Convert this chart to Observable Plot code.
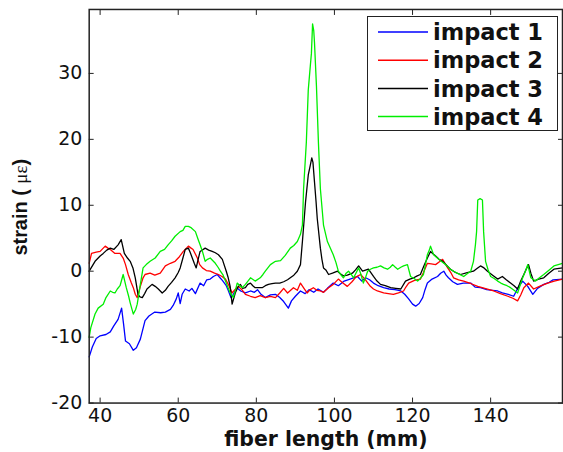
<!DOCTYPE html>
<html><head><meta charset="utf-8">
<script src="https://cdn.jsdelivr.net/npm/d3@7"></script>
<script src="https://cdn.jsdelivr.net/npm/@observablehq/plot@0.6"></script>
<style>
html,body{margin:0;padding:0;background:#fff;overflow:hidden}
#wrap{position:relative;width:563px;height:452px;overflow:hidden}
#legend{position:absolute;left:367px;top:16px;width:189px;height:113px;border:1.5px solid #222;background:#fff}
</style></head>
<body><div id="wrap"><div id="chart"></div><svg id="legend"></svg></div>
<script>
const seriesNames = ["impact 1", "impact 2", "impact 3", "impact 4"];
const seriesColors = ["#0000ff", "#ff0000", "#000000", "#00ee00"];
const xTicks = [40, 60, 80, 100, 120, 140, 160];
const yTicks = [-20, -10, 0, 10, 20, 30];
const xLabel = "fiber length (mm)";
const yLabelParts = ["strain ( ", "με", ")"];

const impact1X = [37.2,38,39,40,41.5,42.6,43.5,44.6,45.5,46,46.5,47.5,48.5,49.3,50.3,51.5,52.5,54,55.5,56.7,58,58.7,59.5,60,60.5,61,61.8,62.8,63.5,64.4,65.6,66.5,67.3,68.2,69,70,70.7,71.3,72.3,72.8,73.5,74.1,75,76,77.2,78.5,79.5,80.3,81.2,82.3,83.6,84.9,86,87,88.2,89,90,91.3,92.5,93.5,94.7,95.8,97.2,98.2,99.7,101,102.5,104,105.9,107,108,109,110,111.2,112.6,114,115.5,117,118,119,120,120.8,121.7,122.6,123.2,123.8,125,126.4,127.2,128,128.6,129.2,130.3,131.5,133,134.9,136,137.4,139,140.5,141.8,143,144.5,145.9,147,148.2,149.5,150.8,152,153.6,155,156,158.4];
const impact1Y = [-13,-11.5,-10.2,-9.8,-9.6,-9.2,-8.3,-7.3,-5.6,-8,-10.6,-11,-12,-11.6,-10.3,-7.5,-6.8,-6.2,-6.3,-6.2,-5.8,-5.2,-4.2,-3.3,-4.9,-3.5,-2.7,-3,-2.6,-3.4,-1.8,-2.2,-1.3,-1.2,-0.8,-0.5,-1,-1.4,-2.2,-2.9,-4,-3.5,-2.5,-3,-3.3,-3,-3.2,-2.8,-3.5,-4,-3.6,-3.5,-4,-4.6,-5.6,-4.5,-3.8,-3,-3.4,-2.8,-3.2,-2.7,-3.2,-2.6,-1.8,-2.2,-1.5,-1.2,-0.8,-1.5,-1,-1.3,-1.8,-2.2,-2.5,-2.7,-2.8,-3,-3.5,-4.2,-5,-5.3,-4.9,-4,-2.8,-1.8,-1.2,-0.8,-0.3,0,-0.6,-1,-1.6,-2,-1.8,-1.8,-2.4,-2.5,-2.8,-2.9,-3,-3.3,-3.5,-3.8,-2.5,-1.5,-2.3,-3.5,-2.6,-2,-1.7,-1.3,-1.2];

const impact2X = [37.2,37.8,39,40,41.3,42,42.6,43.8,45.1,45.9,46.5,47.2,48,48.5,49,49.5,50.3,51,51.5,52.8,54,55.4,56.7,58,59.2,60.3,61.3,62.6,63.3,63.8,64.9,65.5,66.2,67.2,68.2,69.3,70.3,71.2,72.1,73,73.8,74.5,75.4,76.3,77.2,78.5,79.7,81,82.3,83.6,84.9,86,87,88,89.5,90.5,91.3,92.2,93,93.8,94.6,95.5,96.4,97.2,98.5,99.7,101,102,103.3,104.5,105.5,106.7,107.8,109.2,110,111,112.6,113.8,115.1,116.4,117.7,118.3,119,120.5,122,122.8,123.8,124.8,125.9,126.8,127.7,128.3,129,129.8,130.5,131.8,133.1,135,136.7,138.5,140.8,142.5,144.4,145.7,146.9,147.7,148.5,149.7,151,152.5,154.6,156.3,158.4];
const impact2Y = [1.2,2.7,2.9,3,3.8,3.5,3.3,2.7,2.7,2,1,-0.5,-1.8,-2.5,-3.5,-4,-2.3,-1,-0.5,-0.3,-0.6,-0.3,0.8,1.2,1.5,2.2,3,3.8,3.5,3.3,2,1,0.5,0.1,0,-0.3,-0.5,-0.8,-1.2,-2.2,-3.3,-2.8,-2.3,-2.8,-3.5,-3.8,-4,-3.7,-4,-3.8,-4,-3.3,-2.6,-3.3,-2.5,-2.9,-1.8,-2.6,-3.3,-2.8,-2.5,-2.9,-3,-3.2,-2.5,-2,-1.2,-1.7,-2.3,-1.6,-0.9,-0.5,-1.2,-2.3,-2.7,-3,-3.3,-3.4,-3.5,-3.3,-3,-2.4,-1.8,-1.4,-1.2,-0.2,1.2,1.1,1,1.4,1.8,1.2,0.5,-0.2,-1,-1.3,-1.5,-1.9,-2.3,-2.6,-3,-3.4,-3.8,-4.1,-4.5,-3.6,-2.5,-1.8,-2.7,-2.3,-1.8,-1.5,-1.2];

const impact3X = [37.2,38.7,40,40.8,41.7,42.6,43.5,44.6,45.4,46.2,47,47.7,48.4,49,49.7,50.2,50.8,51.4,52,53.3,54.1,54.9,55.9,56.7,57.4,58.3,59.2,60,60.5,61.2,61.8,62.6,63.1,63.6,64.1,64.6,65.1,65.6,66.9,67.8,68.7,69.5,70.3,71.3,72.3,72.8,73.3,73.8,74.6,75.2,75.9,76.5,77.2,77.8,78.5,79.1,79.7,80.6,81.5,82.3,83.1,84,84.9,86,87,88,88.7,89.6,90.5,91.3,91.8,92.2,92.6,93.3,93.8,94.2,94.5,94.9,95.3,95.6,96.4,96.8,97.2,97.8,98.5,99.5,100.8,101.5,102.3,103.3,104.6,105.4,106.2,107.2,108.7,110,110.9,111.8,113,114.4,115.7,117,118.2,119.3,120.3,121.2,122,122.9,123.8,124.6,125.3,125.9,126.8,127.7,128.7,129.7,131,132.3,134,135.6,136.5,137.4,138.3,139.2,140.5,141.8,143,144,145.1,146,146.9,147.7,148.5,149.1,149.7,150.3,151,152.3,153.6,154.9,156.2,158.4];
const impact3Y = [0,1.5,2.3,2.7,3.2,3.5,3.3,4,4.8,2.7,2,1.5,0.5,-1,-3.5,-3.9,-4,-3.4,-2.7,-2,-2.3,-2.7,-3.3,-2.9,-2.3,-1.7,-1,-0.2,0.5,2,3.3,3.5,2.8,2,1.2,0.5,1.8,3,3.5,3.2,3,2.8,2.5,1.8,0,-1,-2.3,-5,-3.3,-2.5,-2,-2.6,-2.5,-2,-1.8,-2.2,-2.5,-2.5,-2.5,-2.2,-2,-1.9,-1.8,-1.8,-1.6,-1.3,-1,-0.6,0,1,4.5,7.5,10.5,14.6,16,17.2,16.5,13.5,10.5,8,3.5,1.8,0.5,0.2,-0.5,-0.3,0,-0.4,-0.7,-0.6,-0.3,0.2,0.8,0,0.3,-0.8,-1.5,-2,-2.2,-2.5,-2.6,-2.7,-1.5,-1.2,-1,-0.7,-0.5,0.8,2,3,2.6,2.3,1.8,1.5,0.9,0.3,-0.2,-0.5,-0.2,0,0.4,0.8,0.5,0,-0.6,-1.2,-0.8,-1.3,-1.8,-2.2,-2.7,-1.5,-0.5,0.3,1,-0.3,-1.5,-1.2,-1,-0.3,0.3,0.5];

const impact4X = [37.2,37.6,38.7,39.5,40.8,41.5,42.6,43.2,43.8,44.4,45.1,45.9,46.7,47.3,47.7,48.5,49.1,49.5,50.3,51,51.8,52.8,54.1,55.4,56.5,57.4,58.3,59.2,60.5,61.2,61.8,62.6,63.3,64.4,65.1,65.6,66.2,66.9,67.5,68.2,69.5,70.2,70.8,71.5,72.1,72.7,73.3,74.1,74.6,75.1,75.8,76.4,77.2,78,78.5,79.7,81,81.7,82.3,83.6,84.9,86.2,87.4,88.7,89.6,90.5,91.3,91.8,92.1,92.8,93.3,93.8,94.1,94.4,94.7,94.9,95.4,95.9,96.4,97.2,98.2,99.7,100.4,101,101.6,102.3,103,103.6,104.3,104.9,105.5,106.2,106.8,107.4,108,108.5,109.2,110,110.9,111.8,112.7,113.6,114.3,114.9,115.6,116.2,117,117.7,118.7,119.5,120.4,121.3,122,122.8,123.3,123.8,124.3,124.6,125.4,126.7,127.6,128.5,129.7,130.5,131.8,133.1,134,134.9,135.6,136.1,136.4,136.7,137.3,137.9,138.2,138.7,139.3,140,140.9,141.8,142.6,143.3,144.2,145.1,146,146.9,147.5,148.2,148.9,149.5,150.3,151.5,152.5,153.6,155,156.2,158.4];
const impact4Y = [-10,-8.6,-6.5,-5.6,-5,-4,-3,-3.2,-3.3,-2.7,-2.2,-0.5,-2.5,-3.8,-4.8,-6.5,-5.8,-5,-2,0.5,1,1.5,2,3,3.3,4,4.6,5.3,6,6.2,6.8,6.8,6.6,6,4.8,4,3,1.5,1.8,2,1.2,0.6,0,-0.6,-1.5,-2.4,-3.3,-4,-3,-1.8,-2.2,-2.5,-2,-1.4,-1,-1.5,-1,-0.5,0,1,1.5,1.6,2.4,3.5,3.9,4.5,5.6,7,12.5,19.5,27.5,31,33,37.5,36.5,34.6,28,19.5,12.5,7,4.5,2.5,1.3,0,-0.5,-1,-0.3,0,-0.5,-1,-0.3,0.5,-0.5,-1.8,-0.9,0,0.3,0.5,0.6,0.8,0.5,0.3,0.6,1,0.6,0.3,0.6,0.8,1,-0.8,-1.1,-1.5,-1.1,-0.5,1,2.5,3.2,3.8,2.5,1.8,1.4,1,0.3,0,-0.4,-0.8,-0.4,0,1.5,4,6,10.8,11,10.8,6,1.5,0.3,-0.8,-1.1,-1.5,-1.8,-2,-2.2,-2.5,-2.9,-3.3,-2.2,-1,0,1,-1,-1.5,-1,-0.5,0.2,0.8,1.2];

const xs = [impact1X, impact2X, impact3X, impact4X];
const ys = [impact1Y, impact2Y, impact3Y, impact4Y];
const rows = seriesNames.flatMap((name, i) => xs[i].map((x, j) => ({series: name, x, y: ys[i][j]})));

const tickFont = "DejaVu Sans, sans-serif";
const xMax = 158.4;
const chart = Plot.plot({
  width: 565,
  height: 452,
  marginLeft: 89,
  marginRight: 1,
  marginTop: 9,
  marginBottom: 48,
  style: {fontFamily: tickFont, fontSize: "19px", color: "#000", background: "#fff", overflow: "visible"},
  x: {domain: [37.2, xMax]},
  y: {domain: [-20, 39.7]},
  color: {domain: seriesNames, range: seriesColors},
  marks: [
    Plot.axisX({ticks: xTicks.filter(t => t <= xMax), tickSize: -5, tickPadding: 11, tickFormat: d => String(d), label: null, stroke: "#222", fill: "#111"}),
    Plot.axisX({anchor: "top", ticks: xTicks.filter(t => t <= xMax), tickSize: -5, tickFormat: () => "", label: null, stroke: "#222"}),
    Plot.axisY({ticks: yTicks, tickSize: -5, tickPadding: 12, tickFormat: d => String(d), label: null, stroke: "#222", fill: "#111"}),
    Plot.axisY({anchor: "right", ticks: yTicks, tickSize: -5, tickFormat: () => "", label: null, stroke: "#222"}),
    Plot.line(rows, {x: "x", y: "y", z: "series", stroke: "series", strokeWidth: 1.3}),
    Plot.frame({stroke: "#222", strokeWidth: 1.5}),
    Plot.text([xLabel], {frameAnchor: "bottom", dy: 43, text: d => d, fontSize: 20.5, fontWeight: "bold", fill: "#111"}),
    Plot.text([yLabelParts.join("")], {frameAnchor: "left", dx: -69, dy: 1, rotate: -90, textAnchor: "middle", text: d => d, fontSize: 20, fontWeight: "bold", fill: "#111", fontFamily: "Liberation Sans, Arial, sans-serif", className: "ylab"})
  ]
});
document.getElementById("chart").appendChild(chart);

// y label with symbol-style Greek letters
const ylab = d3.select(chart).select(".ylab text");
if (!ylab.empty()) {
  ylab.text(null);
  ylab.append("tspan").text(yLabelParts[0]);
  ylab.append("tspan").attr("font-family", "Liberation Serif, DejaVu Serif, serif").attr("font-weight", "normal").attr("font-size", 19).text(yLabelParts[1]);
  ylab.append("tspan").text(yLabelParts[2]);
}

// legend
const lg = d3.select("#legend");
seriesNames.forEach((name, i) => {
  const cy = 15 + i * 28.2;
  lg.append("line").attr("x1", 10).attr("x2", 60).attr("y1", cy).attr("y2", cy)
    .attr("stroke", seriesColors[i]).attr("stroke-width", 1.5);
  lg.append("text").attr("x", 65).attr("y", cy).attr("dy", "0.36em")
    .attr("font-family", "DejaVu Sans, sans-serif").attr("font-weight", "bold")
    .attr("font-size", 22.5).attr("fill", "#111").text(name);
});
</script>
</body></html>
